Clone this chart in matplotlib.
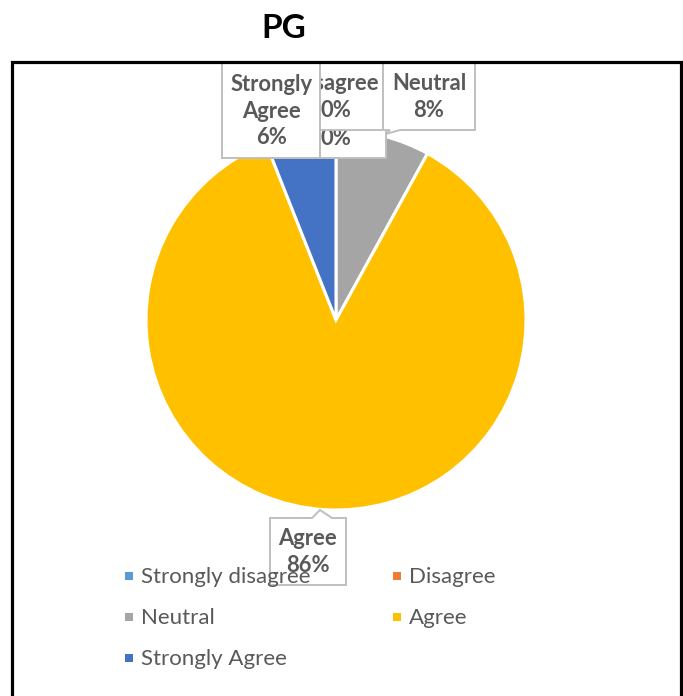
import matplotlib
matplotlib.use("Agg")
import matplotlib.pyplot as plt
from matplotlib.patches import Rectangle, Polygon

categories = ["Strongly disagree", "Disagree", "Neutral", "Agree", "Strongly Agree"]
values = [0, 0, 8, 86, 6]
colors = ["#5B9BD5", "#ED7D31", "#A5A5A5", "#FFC000", "#4472C4"]
title = "PG"

W, H = 683, 696
fig = plt.figure(figsize=(W / 100, H / 100), dpi=100)
ax = fig.add_axes([0, 0, 1, 1])
FONT = ["Lato", "DejaVu Sans"]
TXT = "#595959"
EDGE = "#BFBFBF"


def Y(y):
    return H - y


ax.pie(values, colors=colors, startangle=90, counterclock=False,
       center=(336, Y(320)), radius=190,
       wedgeprops=dict(edgecolor="white", linewidth=2.2))
ax.set_xlim(0, W)
ax.set_ylim(0, H)
ax.set_aspect("auto")
ax.axis("off")

# frame
frame = Rectangle((11.5, Y(700)), 669, 700 - 62, fill=False, edgecolor="black",
                  linewidth=2.3, zorder=10)
ax.add_patch(frame)
clip = Rectangle((11.5, Y(700)), 669, 700 - 62, transform=ax.transData)

fig.text(284 / W, 1 - 28 / H, title, ha="center", va="center", fontsize=24,
         fontweight="bold", family=FONT, color="black")

pct = {c: f"{v}%" for c, v in zip(categories, values)}


def box(x0, y0, x1, y1, lines, cx, cy, z, pointer=None):
    if pointer is not None and pointer[0] == "bottom":
        _, a, b, ap = pointer
        pts = [(x0, y0), (x1, y0), (x1, y1), (b, y1), ap, (a, y1), (x0, y1)]
    elif pointer is not None and pointer[0] == "top":
        _, a, b, ap = pointer
        pts = [(x0, y0), (a, y0), ap, (b, y0), (x1, y0), (x1, y1), (x0, y1)]
    else:
        pts = [(x0, y0), (x1, y0), (x1, y1), (x0, y1)]
    poly = Polygon([(px, Y(py)) for px, py in pts], closed=True,
                   facecolor="white", edgecolor=EDGE, linewidth=1.4, zorder=z)
    ax.add_patch(poly)
    poly.set_clip_path(clip)
    t = ax.text(cx, Y(cy), "\n".join(lines), ha="center", va="center",
                fontsize=15.8, fontweight="bold", color=TXT, family=FONT,
                linespacing=1.32, zorder=z + 0.1)
    t.set_clip_path(clip)


box(286, 66, 386, 158, ["Strongly", "disagree", pct["Strongly disagree"]], 336, 112, 3)
box(290, 50, 383, 130, ["Disagree", pct["Disagree"]], 336, 97, 4)
box(222, 50, 320, 158, ["Strongly", "Agree", pct["Strongly Agree"]], 272, 111, 5)
box(383, 50, 475, 130, ["Neutral", pct["Neutral"]], 429, 97, 4,
    pointer=("bottom", 390, 400, (386, 134)))
box(270, 518, 346, 585, ["Agree", pct["Agree"]], 308, 552, 5,
    pointer=("top", 312, 332, (320, 510)))

# legend (row-wise, two columns)
leg_pos = [(129, 576), (397, 576), (129, 617), (397, 617), (129, 658)]
for (lx, ly), c, col in zip(leg_pos, categories, colors):
    ax.add_patch(Rectangle((lx - 4, Y(ly) - 4), 8, 8, facecolor=col,
                           edgecolor="none", zorder=8))
    ax.text(lx + 12, Y(ly) - 1, c, ha="left", va="center", fontsize=16,
            color=TXT, family=FONT, zorder=8)

fig.savefig("out.png", dpi=100, facecolor="white")
